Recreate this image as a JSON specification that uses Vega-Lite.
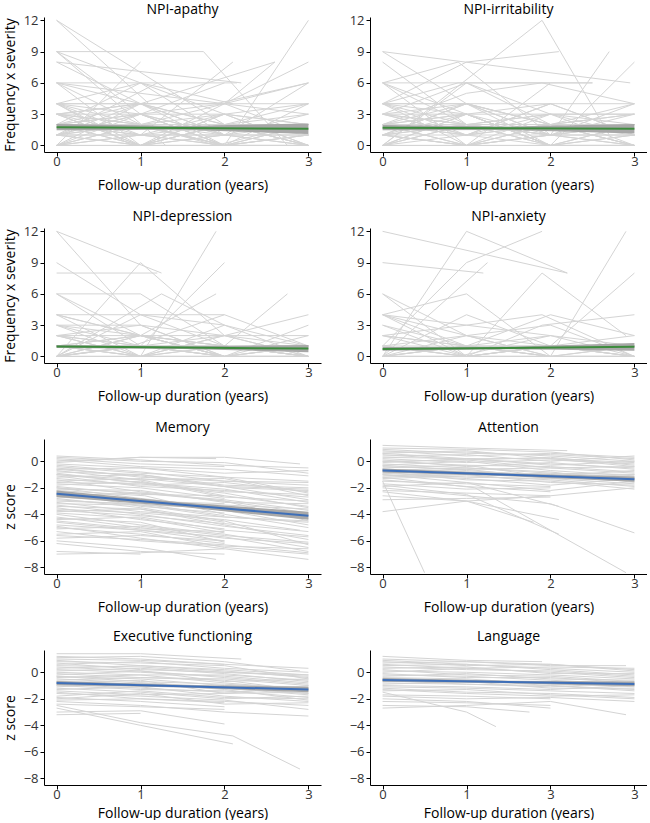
{
"$schema":"https://vega.github.io/schema/vega-lite/v6.json",
"autosize":{"type":"pad"},
"padding":{"left":3,"top":3,"right":0,"bottom":0},
"background":"white",
"columns":2,
"bounds":"flush",
"spacing":{"row":76,"column":49},
"datasets":{
"a":[
{"i":1,"t":[0,1.1],"v":[12,4]},
{"i":2,"t":[0,1.75,2.75],"v":[9,9,0]},
{"i":3,"t":[0,1,2],"v":[9,3,6]},
{"i":4,"t":[0,2.2],"v":[8,6]},
{"i":5,"t":[0,1,2,3],"v":[6,2,0,1]},
{"i":6,"t":[0,1,2,3],"v":[4,4,4,4]},
{"i":7,"t":[0,1,2.15],"v":[4,6,6]},
{"i":8,"t":[0,1,2,3],"v":[3,1,2,3]},
{"i":9,"t":[0,1,2],"v":[2,0,1]},
{"i":10,"t":[0,1],"v":[0,8]},
{"i":11,"t":[0,0.9,2,3],"v":[1,2,0,0]},
{"i":12,"t":[0,1,2,3],"v":[0,0,0,0]},
{"i":13,"t":[0,1,2,3],"v":[2,3,1,6]},
{"i":14,"t":[0,1,2],"v":[6,6,3]},
{"i":15,"t":[0,1,1.9,2.9],"v":[4,2,0,2]},
{"i":16,"t":[0,1.3],"v":[9,0]},
{"i":17,"t":[0,2],"v":[12,2]},
{"i":18,"t":[0,1,2.6],"v":[3,4,8]},
{"i":19,"t":[0,1,2.1],"v":[1,1,8]},
{"i":20,"t":[0,1,2,3],"v":[0,2,0,12]},
{"i":21,"t":[0,1,2,3],"v":[2,2,2,2]},
{"i":22,"t":[0,1,2,3],"v":[1,0,4,8]},
{"i":23,"t":[0,1,2,3],"v":[4,3,3,0]},
{"i":24,"t":[0,2,3],"v":[6,4,6]},
{"i":25,"t":[0,1,2],"v":[3,3,0]},
{"i":26,"t":[0,1,2,3],"v":[0,1,1,1]},
{"i":27,"t":[0,1,2,3],"v":[2,4,2,0]},
{"i":28,"t":[0,1,2],"v":[8,4,1]},
{"i":29,"t":[0,1,2,3],"v":[1,2,3,2]},
{"i":30,"t":[0,0.9,2],"v":[4,0,0]},
{"i":31,"t":[0,1,2,3],"v":[0,4,2,4]},
{"i":32,"t":[0,1,2,3],"v":[3,0,1,3]},
{"i":33,"t":[0,1,2.1],"v":[9,6,4]},
{"i":34,"t":[0,1],"v":[2,1]},
{"i":35,"t":[0,1,2,3],"v":[0,0,2,0]},
{"i":36,"t":[0,1,2,3],"v":[1,3,1,1]},
{"i":37,"t":[0,1,2,3],"v":[4,1,0,0]},
{"i":38,"t":[0,1,2,3],"v":[6,0,3,2]},
{"i":39,"t":[0,1,2,3],"v":[2,6,1,2]},
{"i":40,"t":[0,1.2],"v":[1,6]},
{"i":41,"t":[0,1,2,3],"v":[3,2,0,1]},
{"i":42,"t":[0,1,2,3],"v":[0,1,0,4]},
{"i":43,"t":[0,1,1.9,3],"v":[4,4,4,6]},
{"i":44,"t":[0,1,2,3],"v":[1,1,1,0]},
{"i":45,"t":[0,1,2,3],"v":[2,0,2,1]},
{"i":46,"t":[0,1,2,3],"v":[3,2,4,1]},
{"i":47,"t":[0,1,2,3],"v":[1,3,0,2]},
{"i":48,"t":[0,1,2,3],"v":[2,1,3,4]},
{"i":49,"t":[0,1,2,3],"v":[0,2,1,0]},
{"i":50,"t":[0,1,2,3],"v":[4,0,2,0]},
{"i":51,"t":[0,1,2],"v":[3,4,1]},
{"i":52,"t":[0,1,2,3],"v":[1,0,3,0]},
{"i":53,"t":[0,1,2,2.6],"v":[2,3,4,8]},
{"i":54,"t":[0,1,2,3],"v":[0,3,0,1]},
{"i":55,"t":[0,1,2,3],"v":[6,4,0,0]},
{"i":56,"t":[0,1,2,3],"v":[1,4,4,3]},
{"i":57,"t":[0,1,2,3],"v":[3,0,0,2]}
],
"b":[
{"i":1,"t":[0,2.95],"v":[9,6]},
{"i":2,"t":[0,1.9,2.7],"v":[0,12,1]},
{"i":3,"t":[0,1,2],"v":[8,2,0]},
{"i":4,"t":[0,1,2,2.5],"v":[6,6,6,6]},
{"i":5,"t":[0,1,2],"v":[6,0,3]},
{"i":6,"t":[0,1,2.1],"v":[4,8,9]},
{"i":7,"t":[0,1,2,3],"v":[4,4,4,4]},
{"i":8,"t":[0,1,2,3],"v":[3,2,1,0]},
{"i":9,"t":[0,1,2,3],"v":[2,1,2,1]},
{"i":10,"t":[0,1,2,3],"v":[0,0,0,0]},
{"i":11,"t":[0,1,2,3],"v":[1,3,0,8]},
{"i":12,"t":[0,0.9,2],"v":[4,6,6]},
{"i":13,"t":[0,1,2,3],"v":[6,2,1,2]},
{"i":14,"t":[0,1,2],"v":[2,4,2]},
{"i":15,"t":[0,1,2,2.7],"v":[0,2,1,9]},
{"i":16,"t":[0,1,2,3],"v":[3,3,3,3]},
{"i":17,"t":[0,1,2,3],"v":[1,0,0,0]},
{"i":18,"t":[0,1,2,3],"v":[4,1,4,1]},
{"i":19,"t":[0,1,2,3],"v":[6,3,0,2]},
{"i":20,"t":[0,1,2,3],"v":[2,2,1,2]},
{"i":21,"t":[0,1,2,3],"v":[0,1,2,4]},
{"i":22,"t":[0,1,2,3],"v":[3,6,3,3]},
{"i":23,"t":[0,1,2,3],"v":[1,1,1,1]},
{"i":24,"t":[0,1,2],"v":[4,0,1]},
{"i":25,"t":[0,1,1.9,3],"v":[2,5,6,4]},
{"i":26,"t":[0,1,2,3],"v":[0,3,0,0]},
{"i":27,"t":[0,1,2],"v":[9,4,2]},
{"i":28,"t":[0,1,2,3],"v":[1,2,3,2]},
{"i":29,"t":[0,1,2,3],"v":[3,1,0,1]},
{"i":30,"t":[0,1,2,3],"v":[2,0,2,0]},
{"i":31,"t":[0,1,2,3],"v":[4,4,1,4]},
{"i":32,"t":[0,1,2,3],"v":[0,0,1,1]},
{"i":33,"t":[0,0.9,2],"v":[6,8,1]},
{"i":34,"t":[0,1,2,2.5],"v":[1,0,6,6]},
{"i":35,"t":[0,1,2,3],"v":[3,2,2,0]},
{"i":36,"t":[0,1,2],"v":[2,3,0]},
{"i":37,"t":[0,1,2,3],"v":[0,6,2,3]},
{"i":38,"t":[0,1,2,3],"v":[4,2,2,2]},
{"i":39,"t":[0,1,2,3],"v":[1,4,0,0]},
{"i":40,"t":[0,1,2,3],"v":[2,1,4,1]},
{"i":41,"t":[0,1,2,3],"v":[3,1,3,1]},
{"i":42,"t":[0,1,2,3],"v":[1,4,1,0]},
{"i":43,"t":[0,1,2,3],"v":[2,3,0,2]},
{"i":44,"t":[0,1,2,3],"v":[0,2,3,0]},
{"i":45,"t":[0,1,2,3],"v":[4,3,1,2]},
{"i":46,"t":[0,1,2,3],"v":[1,0,2,3]},
{"i":47,"t":[0,1,2,3],"v":[3,4,2,0]},
{"i":48,"t":[0,1,2,3],"v":[2,0,1,3]},
{"i":49,"t":[0,1,2],"v":[0,3,4]},
{"i":50,"t":[0,1,2,3],"v":[1,2,0,1]}
],
"c":[
{"i":1,"t":[0,1.25],"v":[12,8]},
{"i":2,"t":[0,1,2],"v":[12,3,0]},
{"i":3,"t":[0,1,2],"v":[9,4,1]},
{"i":4,"t":[0,1.2],"v":[8,8]},
{"i":5,"t":[0,1,2],"v":[0,9,2]},
{"i":6,"t":[0,1,2],"v":[6,6,1]},
{"i":7,"t":[0,1,2],"v":[6,1,0]},
{"i":8,"t":[0,1,2],"v":[4,4,4]},
{"i":9,"t":[0,1,2,3],"v":[4,2,2,0]},
{"i":10,"t":[0,1,2,3],"v":[3,3,0,0]},
{"i":11,"t":[0,1,2,3],"v":[2,2,0,1]},
{"i":12,"t":[0,1,1.9],"v":[1,0,12]},
{"i":13,"t":[0,1,2],"v":[0,1,9]},
{"i":14,"t":[0,1,2,3],"v":[0,0,0,0]},
{"i":15,"t":[0,1,2,3],"v":[1,1,1,0]},
{"i":16,"t":[0,1,2,3],"v":[2,0,3,0]},
{"i":17,"t":[0,1,1.9],"v":[0,2,6]},
{"i":18,"t":[0,1,2,2.75],"v":[3,1,1,6]},
{"i":19,"t":[0,1,2,3],"v":[0,0,2,4]},
{"i":20,"t":[0,1,2,3],"v":[1,0,0,3]},
{"i":21,"t":[0,1,2,3],"v":[4,2,0,1]},
{"i":22,"t":[0,1.25,2],"v":[0,6,3]},
{"i":23,"t":[0,1,2,3],"v":[2,1,2,2]},
{"i":24,"t":[0,1,2,3],"v":[0,0,1,0]},
{"i":25,"t":[0,1,2],"v":[3,0,0]},
{"i":26,"t":[0,1,2,3],"v":[6,2,0,0]},
{"i":27,"t":[0,1,2,3],"v":[0,4,3,1]},
{"i":28,"t":[0,1,2,3],"v":[1,1,0,0]},
{"i":29,"t":[0,1,2,3],"v":[2,3,2,0]},
{"i":30,"t":[0,1,2,3],"v":[0,0,0,2]},
{"i":31,"t":[0,1,2,3],"v":[1,2,1,1]},
{"i":32,"t":[0,0.9,2,3],"v":[0,1,4,1]},
{"i":33,"t":[0,1,2],"v":[4,0,1]},
{"i":34,"t":[0,1,2,3],"v":[0,1,0,0]},
{"i":35,"t":[0,1,2,3],"v":[2,0,0,1]},
{"i":36,"t":[0,1,2,3],"v":[1,2,0,0]},
{"i":37,"t":[0,1,2,3],"v":[0,1,1,0]},
{"i":38,"t":[0,1,2,3],"v":[2,1,0,0]},
{"i":39,"t":[0,1,2,3],"v":[3,2,1,0]},
{"i":40,"t":[0,1,2,3],"v":[1,0,2,1]},
{"i":41,"t":[0,1,2,3],"v":[0,2,1,0]}
],
"d":[
{"i":1,"t":[0,2.2],"v":[12,8]},
{"i":2,"t":[0,1.2],"v":[9,8]},
{"i":3,"t":[0,1,1.9],"v":[1,9,12]},
{"i":4,"t":[0,1,2.2],"v":[0,12,8]},
{"i":5,"t":[0,1,2],"v":[6,2,0]},
{"i":6,"t":[0,1,2],"v":[4,6,0]},
{"i":7,"t":[0,1,1.9,2.9],"v":[4,0,8,2]},
{"i":8,"t":[0,1,1.9,3],"v":[2,3,4,0]},
{"i":9,"t":[0,1.25],"v":[0,9]},
{"i":10,"t":[0,1,2,3],"v":[4,1,1,0]},
{"i":11,"t":[0,1,2,2.9],"v":[0,0,0,12]},
{"i":12,"t":[0,1,2,3],"v":[1,0,1,8]},
{"i":13,"t":[0,1,1.9,3],"v":[0,0,3,4]},
{"i":14,"t":[0,1,2,3],"v":[2,1,0,1]},
{"i":15,"t":[0,1,2,3],"v":[0,1,2,0]},
{"i":16,"t":[0,1,2,3],"v":[1,2,1,1]},
{"i":17,"t":[0,1,2,3],"v":[0,0,0,0]},
{"i":18,"t":[0,1,2,3],"v":[4,2,3,0]},
{"i":19,"t":[0,1,2],"v":[3,0,1]},
{"i":20,"t":[0,1,2,3],"v":[0,4,1,0]},
{"i":21,"t":[0,1,2,3],"v":[2,0,0,0]},
{"i":22,"t":[0,1,2,3],"v":[1,1,4,2]},
{"i":23,"t":[0,1,2,3],"v":[0,2,0,1]},
{"i":24,"t":[0,1,2,3],"v":[6,0,0,0]},
{"i":25,"t":[0,0.9,2,3],"v":[0,0,2,1]},
{"i":26,"t":[0,1,2,3],"v":[1,0,0,0]},
{"i":27,"t":[0,1,2,3],"v":[0,1,0,0]},
{"i":28,"t":[0,1,2],"v":[4,3,2]},
{"i":29,"t":[0,1,2,3],"v":[1,0,1,0]},
{"i":30,"t":[0,1,2,3],"v":[2,1,0,0]},
{"i":31,"t":[0,1,2,3],"v":[0,1,1,2]},
{"i":32,"t":[0,1,2,3],"v":[3,1,0,0]},
{"i":33,"t":[0,1,2,3],"v":[0,0,1,0]}
],
"e":[
{"i":1,"t":[0,1,2,3],"v":[0.4,0.1,-0.3,-0.5]},
{"i":2,"t":[0,1,1.9],"v":[0.0,0.3,0.2]},
{"i":3,"t":[0,1,2,3],"v":[-0.3,-0.8,-1.5,-1.6]},
{"i":4,"t":[0,1,2,3],"v":[-0.6,-0.5,-1.2,-2.4]},
{"i":5,"t":[0,0.95,2,3],"v":[-0.9,-1.6,-2.1,-3.1]},
{"i":6,"t":[0,1,2.1,3],"v":[-1.2,-1.0,-2.0,-2.2]},
{"i":7,"t":[0,1,2,3],"v":[-1.4,-2.3,-3.0,-4.5]},
{"i":8,"t":[0,1,2],"v":[-1.7,-2.0,-2.8]},
{"i":9,"t":[0,1,2,3],"v":[-2.0,-2.8,-3.5,-4.0]},
{"i":10,"t":[0,1.05,2,3],"v":[-2.2,-2.6,-4.0,-5.0]},
{"i":11,"t":[0,1,2,3],"v":[-2.5,-3.1,-3.3,-3.6]},
{"i":12,"t":[0,1,2,3],"v":[-2.8,-3.5,-4.5,-6.3]},
{"i":13,"t":[0,1,2],"v":[-3.0,-3.2,-4.1]},
{"i":14,"t":[0,1,2,3],"v":[-3.3,-4.0,-4.9,-5.6]},
{"i":15,"t":[0,1,2,2.9],"v":[-3.6,-3.9,-4.4,-5.2]},
{"i":16,"t":[0,1,2,3],"v":[-4.0,-4.8,-5.5,-6.5]},
{"i":17,"t":[0,1,2],"v":[-4.3,-4.6,-6.1]},
{"i":18,"t":[0,1,2,3],"v":[-4.6,-5.2,-5.7,-6.8]},
{"i":19,"t":[0,1,2],"v":[-5.0,-5.5,-6.2]},
{"i":20,"t":[0,1,2,3],"v":[-5.5,-5.3,-6.5,-7.0]},
{"i":21,"t":[0,1,1.9],"v":[-6.0,-6.5,-7.4]},
{"i":22,"t":[0,1],"v":[-6.8,-7.0]},
{"i":23,"t":[0,1,2,3],"v":[-7.0,-6.9,-6.6,-7.4]},
{"i":24,"t":[0,1,2,3],"v":[-0.2,-0.5,-0.9,-0.7]},
{"i":25,"t":[0,1,2,3],"v":[-0.5,-1.2,-1.5,-1.8]},
{"i":26,"t":[0,1,2],"v":[-1.0,-1.4,-2.6]},
{"i":27,"t":[0,1,2,3],"v":[-1.5,-1.3,-1.9,-2.9]},
{"i":28,"t":[0,1,2,3],"v":[-1.9,-2.5,-2.6,-3.4]},
{"i":29,"t":[0,1,2],"v":[-2.3,-3.4,-3.9]},
{"i":30,"t":[0,1,2,3],"v":[-2.6,-2.4,-3.0,-3.9]},
{"i":31,"t":[0,1,2,3],"v":[-3.1,-3.8,-4.2,-4.5]},
{"i":32,"t":[0,1,2],"v":[-3.5,-4.4,-5.1]},
{"i":33,"t":[0,1,2,3],"v":[-3.8,-3.6,-4.8,-5.9]},
{"i":34,"t":[0,1,2,3],"v":[-4.2,-5.0,-5.8,-6.2]},
{"i":35,"t":[0,1,2],"v":[-4.8,-5.2,-6.0]},
{"i":36,"t":[0,1,2,3],"v":[-5.3,-6.0,-6.4,-6.6]},
{"i":37,"t":[0,1,2],"v":[-5.8,-5.6,-6.0]},
{"i":38,"t":[0,1,2],"v":[-6.2,-6.8,-7.0]},
{"i":39,"t":[0,1,2],"v":[0.2,-0.2,-0.4]},
{"i":40,"t":[0,1,2,3],"v":[-0.8,-1.0,-1.8,-2.0]},
{"i":41,"t":[0,1,2,3],"v":[-1.1,-1.9,-2.2,-2.7]},
{"i":42,"t":[0,1,2,3],"v":[-1.6,-1.7,-2.4,-3.5]},
{"i":43,"t":[0,1,2,3],"v":[-2.1,-2.2,-3.1,-3.2]},
{"i":44,"t":[0,1,2,3],"v":[-2.7,-3.0,-3.7,-4.8]},
{"i":45,"t":[0,1,2,3],"v":[-3.2,-3.3,-3.5,-4.1]},
{"i":46,"t":[0,1,2,3],"v":[-4.4,-4.2,-5.2,-5.7]},
{"i":47,"t":[0,1,2,2.9],"v":[-0.1,0.3,0.3,-0.2]},
{"i":48,"t":[0,1,2,3],"v":[-1.3,-1.8,-1.6,-2.3]},
{"i":49,"t":[0,1,2,3],"v":[-2.4,-2.9,-3.6,-4.3]},
{"i":50,"t":[0,1,2],"v":[-3.4,-3.6,-4.6]},
{"i":51,"t":[0,1,2],"v":[-4.9,-5.8,-6.6]},
{"i":52,"t":[0,1,2,3],"v":[-0.4,-0.9,-1.2,-1.5]},
{"i":53,"t":[0,1,2,3],"v":[0.1,-0.4,-0.6,-1.1]},
{"i":54,"t":[0,1,2,3],"v":[-0.7,-1.4,-1.3,-2.6]},
{"i":55,"t":[0,1,2,3],"v":[-1.8,-1.5,-2.7,-3.0]},
{"i":56,"t":[0,1,2,3],"v":[-2.9,-3.3,-4.2,-4.6]},
{"i":57,"t":[0,1,2],"v":[-3.9,-4.3,-5.4]},
{"i":58,"t":[0,1,2,3],"v":[-5.1,-4.9,-5.6,-6.1]},
{"i":59,"t":[0,1,2,3],"v":[-0.6,-1.1,-1.9,-2.1]},
{"i":60,"t":[0,1,2,3],"v":[-1.0,-1.6,-2.3,-2.5]},
{"i":61,"t":[0,1,2,3],"v":[-2.0,-2.4,-2.9,-3.7]},
{"i":62,"t":[0,1,2],"v":[-2.6,-3.0,-3.2]},
{"i":63,"t":[0,1,2,3],"v":[-3.7,-4.1,-4.7,-5.3]},
{"i":64,"t":[0,1,2],"v":[-4.5,-5.1,-5.3]},
{"i":65,"t":[0,1,2,3],"v":[-5.6,-5.9,-6.3,-6.9]},
{"i":66,"t":[0,1,2,3],"v":[0.3,0.0,-0.1,-0.9]}
],
"f":[
{"i":1,"t":[0,0.5],"v":[-1.5,-8.4]},
{"i":2,"t":[0,1.1,2.9],"v":[-1.2,-2.0,-8.4]},
{"i":3,"t":[0,1,2,3],"v":[-3.8,-3.0,-2.6,-2.0]},
{"i":4,"t":[0,1,2],"v":[-2.9,-2.8,-2.7]},
{"i":5,"t":[0,1,2.1],"v":[-2.3,-3.0,-4.4]},
{"i":6,"t":[0,1,2.1],"v":[-1.8,-2.5,-5.5]},
{"i":7,"t":[0,1,2,3],"v":[-2.0,-2.6,-3.2,-5.4]},
{"i":8,"t":[0,1,1.8],"v":[-2.6,-3.0,-4.6]},
{"i":9,"t":[0,1,2.1],"v":[-1.0,-1.6,-3.4]},
{"i":10,"t":[0,1,2.2],"v":[1.2,1.0,0.8]},
{"i":11,"t":[0,1,2,3],"v":[0.9,0.6,0.5,0.2]},
{"i":12,"t":[0,1,2,3],"v":[0.6,0.8,0.2,-0.1]},
{"i":13,"t":[0,1,2,3],"v":[0.3,0.2,-0.2,-0.5]},
{"i":14,"t":[0,1,2,3],"v":[0.0,-0.3,-0.4,-0.8]},
{"i":15,"t":[0,1,2,3],"v":[-0.3,0.0,-0.7,-1.1]},
{"i":16,"t":[0,1,2,3],"v":[-0.6,-0.8,-1.0,-1.4]},
{"i":17,"t":[0,1,2,3],"v":[-0.9,-1.2,-1.3,-1.7]},
{"i":18,"t":[0,1,2,3],"v":[-1.2,-1.0,-1.6,-1.8]},
{"i":19,"t":[0,1,2],"v":[-1.5,-1.7,-1.9]},
{"i":20,"t":[0,1,2,3],"v":[-1.9,-1.6,-2.2,-1.5]},
{"i":21,"t":[0,1,2,3],"v":[0.8,0.4,0.6,0.3]},
{"i":22,"t":[0,1,2,3],"v":[0.5,0.1,0.3,-0.3]},
{"i":23,"t":[0,1,2,3],"v":[0.1,-0.4,-0.1,-0.6]},
{"i":24,"t":[0,1,2,3],"v":[-0.2,-0.5,-0.9,-1.0]},
{"i":25,"t":[0,1,2,3],"v":[-0.5,-0.3,-1.2,-1.3]},
{"i":26,"t":[0,1,2,3],"v":[-0.8,-1.4,-1.5,-2.1]},
{"i":27,"t":[0,1,2,3],"v":[-1.1,-0.9,-1.1,-1.2]},
{"i":28,"t":[0,1,2],"v":[-1.4,-1.9,-2.3]},
{"i":29,"t":[0,1,2,3],"v":[0.4,0.5,0.0,0.4]},
{"i":30,"t":[0,1,2,3],"v":[-0.1,0.2,-0.3,0.0]},
{"i":31,"t":[0,1,2,3],"v":[-0.4,-0.6,-0.5,-0.9]},
{"i":32,"t":[0,1,2,3],"v":[-0.7,-0.5,-0.8,-1.6]},
{"i":33,"t":[0,1,2,3],"v":[-1.0,-1.3,-1.8,-1.3]},
{"i":34,"t":[0,1,2],"v":[-1.7,-2.1,-2.0]},
{"i":35,"t":[0,1,2,3],"v":[0.2,-0.1,0.1,-0.2]},
{"i":36,"t":[0,1,2],"v":[-2.2,-2.4,-2.6]},
{"i":37,"t":[0,1,2,3],"v":[0.7,0.7,0.4,0.0]},
{"i":38,"t":[0,1,2,3],"v":[-0.3,-0.7,-1.1,-0.7]},
{"i":39,"t":[0,1,2,3],"v":[1.0,0.9,0.7,0.1]},
{"i":40,"t":[0,1,2,3],"v":[0.0,0.1,-0.5,-0.4]},
{"i":41,"t":[0,1,2,3],"v":[-0.6,-1.0,-0.9,-1.2]},
{"i":42,"t":[0,1,2,3],"v":[-1.3,-1.1,-1.4,-1.9]},
{"i":43,"t":[0,1,2,3],"v":[0.6,0.2,0.2,-0.4]},
{"i":44,"t":[0,1,2,3],"v":[-0.9,-0.6,-1.3,-1.0]}
],
"g":[
{"i":1,"t":[0,1,2.1,2.9],"v":[-2.5,-3.8,-4.8,-7.3]},
{"i":2,"t":[0,1,2.1],"v":[-2.7,-4.0,-5.4]},
{"i":3,"t":[0,1],"v":[-3.2,-3.1]},
{"i":4,"t":[0,1,2],"v":[-3.0,-2.9,-3.9]},
{"i":5,"t":[0,1,2,3],"v":[-2.2,-2.5,-3.0,-3.3]},
{"i":6,"t":[0,1,2.2],"v":[1.4,1.4,1.0]},
{"i":7,"t":[0,1,2,2.9],"v":[1.1,1.2,0.8,0.1]},
{"i":8,"t":[0,1,2,3],"v":[0.8,0.7,0.5,-0.5]},
{"i":9,"t":[0,1,2,3],"v":[0.5,0.4,0.0,-0.2]},
{"i":10,"t":[0,1,2,3],"v":[0.2,0.0,-0.3,-0.8]},
{"i":11,"t":[0,1,2,3],"v":[-0.1,-0.4,-0.5,-1.0]},
{"i":12,"t":[0,1,2,3],"v":[-0.4,-0.2,-0.8,-1.3]},
{"i":13,"t":[0,1,2,3],"v":[-0.7,-0.9,-1.2,-1.6]},
{"i":14,"t":[0,1,2,3],"v":[-1.0,-1.3,-1.4,-1.9]},
{"i":15,"t":[0,1,2,3],"v":[-1.3,-1.1,-1.8,-2.2]},
{"i":16,"t":[0,1,2,3],"v":[-1.6,-1.8,-2.1,-2.8]},
{"i":17,"t":[0,1,2],"v":[-1.9,-2.2,-2.6]},
{"i":18,"t":[0,1,2,3],"v":[-2.0,-1.6,-2.4,-2.3]},
{"i":19,"t":[0,1,2],"v":[1.0,0.9,0.6]},
{"i":20,"t":[0,1,2,3],"v":[0.6,0.8,0.3,0.0]},
{"i":21,"t":[0,1,2,3],"v":[0.3,0.5,0.1,-0.4]},
{"i":22,"t":[0,1,2,3],"v":[0.0,-0.2,-0.2,-0.6]},
{"i":23,"t":[0,1,2,3],"v":[-0.3,-0.5,-1.0,-1.1]},
{"i":24,"t":[0,1,2,3],"v":[-0.6,-0.4,-0.6,-1.4]},
{"i":25,"t":[0,1,2,3],"v":[-0.9,-1.2,-1.5,-1.2]},
{"i":26,"t":[0,1,2,3],"v":[-1.2,-1.5,-2.0,-1.8]},
{"i":27,"t":[0,1,2],"v":[-1.5,-2.0,-2.3]},
{"i":28,"t":[0,1,2,3],"v":[-1.8,-1.4,-1.9,-2.0]},
{"i":29,"t":[0,1,2],"v":[-2.4,-2.6,-2.8]},
{"i":30,"t":[0,1,2,3],"v":[0.4,0.1,-0.4,-0.9]},
{"i":31,"t":[0,1,2,3],"v":[-0.2,0.1,-0.7,-0.5]},
{"i":32,"t":[0,1,2,3],"v":[-0.5,-0.8,-1.1,-1.6]},
{"i":33,"t":[0,1,2,3],"v":[-1.1,-0.8,-1.3,-2.1]},
{"i":34,"t":[0,1,2,3],"v":[0.9,0.5,0.2,-0.2]},
{"i":35,"t":[0,1,2,3],"v":[-0.8,-0.6,-1.6,-1.0]},
{"i":36,"t":[0,1,2,3],"v":[-1.4,-1.7,-1.6,-1.5]},
{"i":37,"t":[0,1,2,3],"v":[1.2,1.0,0.6,0.3]},
{"i":38,"t":[0,1,2,3],"v":[0.1,0.3,-0.1,-0.7]},
{"i":39,"t":[0,1,2,3],"v":[-0.3,-0.7,-0.9,-1.2]},
{"i":40,"t":[0,1,2,3],"v":[-1.0,-0.9,-1.2,-1.7]},
{"i":41,"t":[0,1,2,3],"v":[-2.1,-2.0,-2.2,-2.5]},
{"i":42,"t":[0,1,2,3],"v":[0.7,0.2,0.0,-0.3]}
],
"h":[
{"i":1,"t":[0,1,1.35],"v":[-1.5,-3.0,-4.1]},
{"i":2,"t":[0,1,1.75],"v":[-2.5,-2.6,-3.0]},
{"i":3,"t":[0,1,2],"v":[-2.0,-2.2,-2.7]},
{"i":4,"t":[0,1,2,2.9],"v":[-2.7,-2.5,-2.2,-3.2]},
{"i":5,"t":[0,1,2,3],"v":[-1.8,-2.0,-1.9,-2.2]},
{"i":6,"t":[0,1,1.9],"v":[1.2,0.9,0.8]},
{"i":7,"t":[0,1,2,3],"v":[1.0,0.8,0.6,0.2]},
{"i":8,"t":[0,1,2,2.9],"v":[0.7,0.8,0.5,0.5]},
{"i":9,"t":[0,1,2,3],"v":[0.4,0.2,0.1,-0.3]},
{"i":10,"t":[0,1,2,3],"v":[0.1,0.0,-0.2,-0.5]},
{"i":11,"t":[0,1,2,3],"v":[-0.2,-0.3,-0.6,-0.9]},
{"i":12,"t":[0,1,2,3],"v":[-0.5,-0.6,-0.8,-1.1]},
{"i":13,"t":[0,1,2,3],"v":[-0.8,-0.9,-1.0,-1.4]},
{"i":14,"t":[0,1,2,3],"v":[-1.1,-1.2,-1.4,-1.6]},
{"i":15,"t":[0,1,2,3],"v":[-1.4,-1.3,-1.7,-2.0]},
{"i":16,"t":[0,1,2],"v":[-1.7,-1.8,-2.0]},
{"i":17,"t":[0,1,2],"v":[-2.2,-2.3,-2.5]},
{"i":18,"t":[0,1,2,3],"v":[0.9,0.6,0.3,0.0]},
{"i":19,"t":[0,1,2,3],"v":[0.5,0.6,0.2,-0.2]},
{"i":20,"t":[0,1,2,3],"v":[0.2,-0.2,-0.3,-0.7]},
{"i":21,"t":[0,1,2,3],"v":[-0.3,-0.1,-0.5,-0.6]},
{"i":22,"t":[0,1,2,3],"v":[-0.6,-0.9,-1.1,-0.8]},
{"i":23,"t":[0,1,2,3],"v":[-0.9,-0.7,-1.2,-1.2]},
{"i":24,"t":[0,1,2,3],"v":[-1.2,-1.5,-1.6,-1.9]},
{"i":25,"t":[0,1,2,3],"v":[-1.0,-1.1,-1.3,-1.0]},
{"i":26,"t":[0,1,2,3],"v":[0.0,0.3,0.0,-0.4]},
{"i":27,"t":[0,1,2,3],"v":[-0.4,-0.5,-0.9,-1.0]},
{"i":28,"t":[0,1,2,3],"v":[0.6,0.3,0.4,0.3]},
{"i":29,"t":[0,1,2,3],"v":[0.8,0.5,0.6,0.1]},
{"i":30,"t":[0,1,2,3],"v":[-0.1,-0.4,-0.4,-0.8]},
{"i":31,"t":[0,1,2,3],"v":[-0.7,-0.6,-1.0,-1.3]},
{"i":32,"t":[0,1,2,3],"v":[-1.3,-1.6,-1.8,-1.7]},
{"i":33,"t":[0,1,2,3],"v":[0.3,0.4,-0.1,-0.1]}
],
"m":[
{"p":"a","t":[0,1.5,3],"m":[1.75,1.68,1.6],"lo":[1.45,1.5,1.1],"hi":[2.05,1.86,2.1]},
{"p":"b","t":[0,1.5,3],"m":[1.7,1.65,1.6],"lo":[1.45,1.48,1.15],"hi":[1.95,1.82,2.05]},
{"p":"c","t":[0,1.5,3],"m":[0.95,0.85,0.75],"lo":[0.8,0.72,0.4],"hi":[1.1,0.98,1.1]},
{"p":"d","t":[0,1.5,3],"m":[0.72,0.82,0.92],"lo":[0.55,0.7,0.55],"hi":[0.9,0.94,1.3]},
{"p":"e","t":[0,1.5,3],"m":[-2.45,-3.28,-4.1],"lo":[-2.7,-3.45,-4.4],"hi":[-2.2,-3.1,-3.8]},
{"p":"f","t":[0,1.5,3],"m":[-0.7,-1.02,-1.35],"lo":[-0.85,-1.12,-1.55],"hi":[-0.55,-0.92,-1.15]},
{"p":"g","t":[0,1.5,3],"m":[-0.8,-1.05,-1.3],"lo":[-0.95,-1.15,-1.5],"hi":[-0.65,-0.95,-1.1]},
{"p":"h","t":[0,1.5,3],"m":[-0.58,-0.73,-0.88],"lo":[-0.72,-0.83,-1.05],"hi":[-0.44,-0.63,-0.7]}
]
},
"concat":[
{"title":{"text":"NPI-apathy","offset":-3},"width":277,"height":135,
 "encoding":{"x":{"field":"t","type":"quantitative","title":"Follow-up duration (years)","scale":{"domain":[-0.15,3.15],"nice":false,"zero":false},"axis":{"values":[0,1,2,3],"format":"d"}}},
 "layer":[
  {"data":{"name":"a"},"transform":[{"flatten":["t","v"]}],"mark":{"type":"line","stroke":"#d4d4d4","strokeWidth":1},"encoding":{"y":{"field":"v","type":"quantitative","title":"Frequency x severity","scale":{"domain":[-0.63,12.32],"nice":false,"zero":false},"axis":{"values":[0,3,6,9,12],"tickCount":10,"format":"d"}},"detail":{"field":"i","type":"nominal"}}},
  {"data":{"name":"m"},"transform":[{"filter":"datum.p=='a'"},{"flatten":["t","m","lo","hi"]}],"mark":{"type":"area","color":"#a8a8a8"},"encoding":{"y":{"field":"lo","type":"quantitative","title":"Frequency x severity"},"y2":{"field":"hi"}}},
  {"data":{"name":"m"},"transform":[{"filter":"datum.p=='a'"},{"flatten":["t","m","lo","hi"]}],"mark":{"type":"line","color":"#3d8b3d","strokeWidth":2},"encoding":{"y":{"field":"m","type":"quantitative","title":"Frequency x severity"}}}
 ]},
{"title":{"text":"NPI-irritability","offset":-3},"width":277,"height":135,
 "encoding":{"x":{"field":"t","type":"quantitative","title":"Follow-up duration (years)","scale":{"domain":[-0.15,3.15],"nice":false,"zero":false},"axis":{"values":[0,1,2,3],"format":"d"}}},
 "layer":[
  {"data":{"name":"b"},"transform":[{"flatten":["t","v"]}],"mark":{"type":"line","stroke":"#d4d4d4","strokeWidth":1},"encoding":{"y":{"field":"v","type":"quantitative","title":null,"scale":{"domain":[-0.63,12.32],"nice":false,"zero":false},"axis":{"values":[0,3,6,9,12],"tickCount":10,"format":"d"}},"detail":{"field":"i","type":"nominal"}}},
  {"data":{"name":"m"},"transform":[{"filter":"datum.p=='b'"},{"flatten":["t","m","lo","hi"]}],"mark":{"type":"area","color":"#a8a8a8"},"encoding":{"y":{"field":"lo","type":"quantitative","title":null},"y2":{"field":"hi"}}},
  {"data":{"name":"m"},"transform":[{"filter":"datum.p=='b'"},{"flatten":["t","m","lo","hi"]}],"mark":{"type":"line","color":"#3d8b3d","strokeWidth":2},"encoding":{"y":{"field":"m","type":"quantitative","title":null}}}
 ]},
{"title":{"text":"NPI-depression","offset":1},"width":277,"height":135,
 "encoding":{"x":{"field":"t","type":"quantitative","title":"Follow-up duration (years)","scale":{"domain":[-0.15,3.15],"nice":false,"zero":false},"axis":{"values":[0,1,2,3],"format":"d"}}},
 "layer":[
  {"data":{"name":"c"},"transform":[{"flatten":["t","v"]}],"mark":{"type":"line","stroke":"#d4d4d4","strokeWidth":1},"encoding":{"y":{"field":"v","type":"quantitative","title":"Frequency x severity","scale":{"domain":[-0.63,12.32],"nice":false,"zero":false},"axis":{"values":[0,3,6,9,12],"tickCount":10,"format":"d"}},"detail":{"field":"i","type":"nominal"}}},
  {"data":{"name":"m"},"transform":[{"filter":"datum.p=='c'"},{"flatten":["t","m","lo","hi"]}],"mark":{"type":"area","color":"#a8a8a8"},"encoding":{"y":{"field":"lo","type":"quantitative","title":"Frequency x severity"},"y2":{"field":"hi"}}},
  {"data":{"name":"m"},"transform":[{"filter":"datum.p=='c'"},{"flatten":["t","m","lo","hi"]}],"mark":{"type":"line","color":"#3d8b3d","strokeWidth":2},"encoding":{"y":{"field":"m","type":"quantitative","title":"Frequency x severity"}}}
 ]},
{"title":{"text":"NPI-anxiety","offset":1},"width":277,"height":135,
 "encoding":{"x":{"field":"t","type":"quantitative","title":"Follow-up duration (years)","scale":{"domain":[-0.15,3.15],"nice":false,"zero":false},"axis":{"values":[0,1,2,3],"format":"d"}}},
 "layer":[
  {"data":{"name":"d"},"transform":[{"flatten":["t","v"]}],"mark":{"type":"line","stroke":"#d4d4d4","strokeWidth":1},"encoding":{"y":{"field":"v","type":"quantitative","title":null,"scale":{"domain":[-0.63,12.32],"nice":false,"zero":false},"axis":{"values":[0,3,6,9,12],"tickCount":10,"format":"d"}},"detail":{"field":"i","type":"nominal"}}},
  {"data":{"name":"m"},"transform":[{"filter":"datum.p=='d'"},{"flatten":["t","m","lo","hi"]}],"mark":{"type":"area","color":"#a8a8a8"},"encoding":{"y":{"field":"lo","type":"quantitative","title":null},"y2":{"field":"hi"}}},
  {"data":{"name":"m"},"transform":[{"filter":"datum.p=='d'"},{"flatten":["t","m","lo","hi"]}],"mark":{"type":"line","color":"#3d8b3d","strokeWidth":2},"encoding":{"y":{"field":"m","type":"quantitative","title":null}}}
 ]},
{"title":{"text":"Memory","offset":4},"width":277,"height":135,
 "encoding":{"x":{"field":"t","type":"quantitative","title":"Follow-up duration (years)","scale":{"domain":[-0.15,3.15],"nice":false,"zero":false},"axis":{"values":[0,1,2,3],"format":"d"}}},
 "layer":[
  {"data":{"name":"e"},"transform":[{"flatten":["t","v"]}],"mark":{"type":"line","stroke":"#d4d4d4","strokeWidth":1},"encoding":{"y":{"field":"v","type":"quantitative","title":"z score","scale":{"domain":[-8.5,1.68],"nice":false,"zero":false},"axis":{"values":[-8,-6,-4,-2,0],"tickCount":10,"format":"d"}},"detail":{"field":"i","type":"nominal"}}},
  {"data":{"name":"m"},"transform":[{"filter":"datum.p=='e'"},{"flatten":["t","m","lo","hi"]}],"mark":{"type":"area","color":"#a8a8a8"},"encoding":{"y":{"field":"lo","type":"quantitative","title":"z score"},"y2":{"field":"hi"}}},
  {"data":{"name":"m"},"transform":[{"filter":"datum.p=='e'"},{"flatten":["t","m","lo","hi"]}],"mark":{"type":"line","color":"#3e6fb8","strokeWidth":2},"encoding":{"y":{"field":"m","type":"quantitative","title":"z score"}}}
 ]},
{"title":{"text":"Attention","offset":4},"width":277,"height":135,
 "encoding":{"x":{"field":"t","type":"quantitative","title":"Follow-up duration (years)","scale":{"domain":[-0.15,3.15],"nice":false,"zero":false},"axis":{"values":[0,1,2,3],"format":"d"}}},
 "layer":[
  {"data":{"name":"f"},"transform":[{"flatten":["t","v"]}],"mark":{"type":"line","stroke":"#d4d4d4","strokeWidth":1},"encoding":{"y":{"field":"v","type":"quantitative","title":null,"scale":{"domain":[-8.5,1.68],"nice":false,"zero":false},"axis":{"values":[-8,-6,-4,-2,0],"tickCount":10,"format":"d"}},"detail":{"field":"i","type":"nominal"}}},
  {"data":{"name":"m"},"transform":[{"filter":"datum.p=='f'"},{"flatten":["t","m","lo","hi"]}],"mark":{"type":"area","color":"#a8a8a8"},"encoding":{"y":{"field":"lo","type":"quantitative","title":null},"y2":{"field":"hi"}}},
  {"data":{"name":"m"},"transform":[{"filter":"datum.p=='f'"},{"flatten":["t","m","lo","hi"]}],"mark":{"type":"line","color":"#3e6fb8","strokeWidth":2},"encoding":{"y":{"field":"m","type":"quantitative","title":null}}}
 ]},
{"title":{"text":"Executive functioning","offset":6},"width":277,"height":135,
 "encoding":{"x":{"field":"t","type":"quantitative","title":"Follow-up duration (years)","scale":{"domain":[-0.15,3.15],"nice":false,"zero":false},"axis":{"values":[0,1,2,3],"format":"d","titlePadding":5}}},
 "layer":[
  {"data":{"name":"g"},"transform":[{"flatten":["t","v"]}],"mark":{"type":"line","stroke":"#d4d4d4","strokeWidth":1},"encoding":{"y":{"field":"v","type":"quantitative","title":"z score","scale":{"domain":[-8.5,1.68],"nice":false,"zero":false},"axis":{"values":[-8,-6,-4,-2,0],"tickCount":10,"format":"d"}},"detail":{"field":"i","type":"nominal"}}},
  {"data":{"name":"m"},"transform":[{"filter":"datum.p=='g'"},{"flatten":["t","m","lo","hi"]}],"mark":{"type":"area","color":"#a8a8a8"},"encoding":{"y":{"field":"lo","type":"quantitative","title":"z score"},"y2":{"field":"hi"}}},
  {"data":{"name":"m"},"transform":[{"filter":"datum.p=='g'"},{"flatten":["t","m","lo","hi"]}],"mark":{"type":"line","color":"#3e6fb8","strokeWidth":2},"encoding":{"y":{"field":"m","type":"quantitative","title":"z score"}}}
 ]},
{"title":{"text":"Language","offset":6},"width":277,"height":135,
 "encoding":{"x":{"field":"t","type":"quantitative","title":"Follow-up duration (years)","scale":{"domain":[-0.15,3.15],"nice":false,"zero":false},"axis":{"values":[0,1,2,3],"format":"d","titlePadding":5,"labelExpr":"datum.value==2?'3':datum.label"}}},
 "layer":[
  {"data":{"name":"h"},"transform":[{"flatten":["t","v"]}],"mark":{"type":"line","stroke":"#d4d4d4","strokeWidth":1},"encoding":{"y":{"field":"v","type":"quantitative","title":null,"scale":{"domain":[-8.5,1.68],"nice":false,"zero":false},"axis":{"values":[-8,-6,-4,-2,0],"tickCount":10,"format":"d"}},"detail":{"field":"i","type":"nominal"}}},
  {"data":{"name":"m"},"transform":[{"filter":"datum.p=='h'"},{"flatten":["t","m","lo","hi"]}],"mark":{"type":"area","color":"#a8a8a8"},"encoding":{"y":{"field":"lo","type":"quantitative","title":null},"y2":{"field":"hi"}}},
  {"data":{"name":"m"},"transform":[{"filter":"datum.p=='h'"},{"flatten":["t","m","lo","hi"]}],"mark":{"type":"line","color":"#3e6fb8","strokeWidth":2},"encoding":{"y":{"field":"m","type":"quantitative","title":null}}}
 ]}
],
"config":{
 "font":"Open Sans",
 "view":{"stroke":null},
 "axis":{"grid":false,"domainColor":"#000000","domainWidth":1,"tickColor":"#000000","tickSize":4,"labelFontSize":13,"labelColor":"#333333","titleFontSize":14,"titleFontWeight":"normal","titleColor":"#000000","labelPadding":2,"labelFont":"Open Sans","titleFont":"Open Sans","labelOverlap":false},
 "axisX":{"titlePadding":10,"labelPadding":-1},
 "axisY":{"titlePadding":6},
 "title":{"fontSize":14,"fontWeight":"normal","font":"Open Sans","color":"#000000"}
}
}
